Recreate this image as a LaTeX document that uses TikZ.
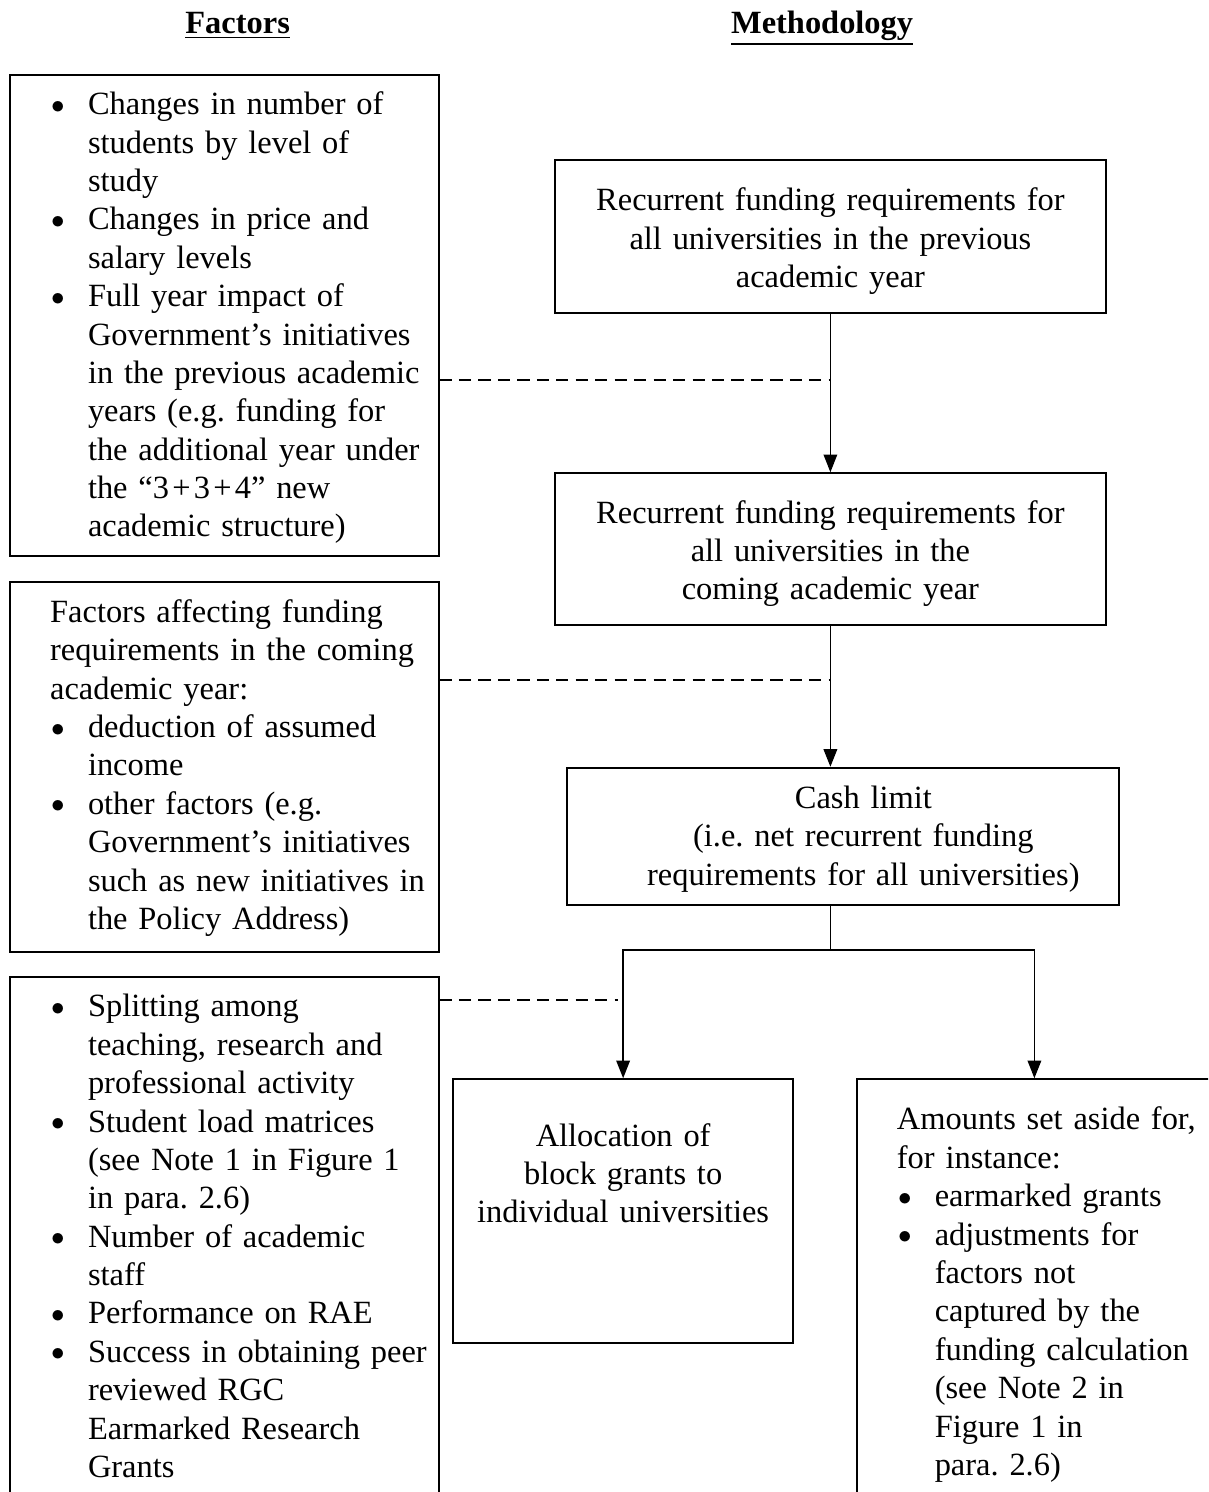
\documentclass[tikz,border=0pt]{standalone}
\usepackage{fontspec}
\setmainfont{Liberation Serif}
\usepackage{tikz}
\usetikzlibrary{arrows.meta,calc}
\frenchspacing

% one bulleted entry of a list box
\newcommand{\bitem}[1]{\hangindent=14pt\hangafter=1%
  \makebox[14pt][l]{\hspace{0.4pt}\raisebox{0.5pt}{\fontsize{10}{10}\selectfont$\bullet$}}#1\par}

\begin{document}
\begin{tikzpicture}[
  font=\fontsize{12}{14.2}\selectfont,
  box/.style={draw,line width=0.7pt,anchor=north west,inner ysep=0pt},
  factbox/.style={box,inner xsep=0.1cm,text width=5.37cm,align=left,text height=0.52cm,
    execute at begin node={\leftskip=11.95pt\rightskip=0pt plus 1fil\parfillskip=0pt plus 1fil}},
  methbox/.style={box,inner xsep=0.15cm,align=center,
    execute at begin node={\leftskip=0pt plus 1fil\rightskip=0pt plus 1fil\parfillskip=0pt}},
  link/.style={line width=0.6pt},
  arrow/.style={link,-{Triangle[length=6.5pt,width=5pt]}},
  dashln/.style={line width=0.6pt,dash pattern=on 4.5pt off 2.7pt},
  head/.style={font=\fontsize{12}{14.2}\selectfont\bfseries,anchor=base}
]
\useasboundingbox (0,0) rectangle (15.71,-19.40);
\clip (0,0) rectangle (15.71,-19.40);

%--- column headings ---
\node[head] (factHead) at (3.09,-0.43) {\underline{Factors}};
\node[head] (methHead) at (10.69,-0.43) {\underline{Methodology}};

%--- factors column ---
\node[factbox,text depth=5.74cm] (factA) at (0.12,-0.96) {
  \bitem{Changes in number of\newline students by level of\newline study}
  \bitem{Changes in price and\newline salary levels}
  \bitem{Full year impact of\newline Government's initiatives\newline in the previous academic\newline
    years (e.g. funding for\newline the additional year under\newline
    the ``3\hspace{1.2pt}+\hspace{1.2pt}3\hspace{1.2pt}+\hspace{1.2pt}4'' new\newline academic structure)}};
\node[factbox,text depth=4.29cm] (factB) at (0.12,-7.56) {
  Factors affecting funding\newline requirements in the coming\newline academic year:\par
  \bitem{deduction of assumed\newline income}
  \bitem{other factors (e.g.\newline Government's initiatives\newline
    such as new initiatives in\newline the Policy Address)}};
\node[factbox,text depth=6.6cm] (factC) at (0.12,-12.69) {
  \bitem{Splitting among\newline teaching, research and\newline professional activity}
  \bitem{Student load matrices\newline (see Note 1 in Figure 1\newline in para. 2.6)}
  \bitem{Number of academic\newline staff}
  \bitem{Performance on RAE}
  \bitem{Success in obtaining peer\newline reviewed RGC\newline Earmarked Research\newline Grants}};

%--- methodology column ---
\node[methbox,text width=6.87cm,text height=0.66cm,text depth=1.33cm] (prev) at (7.20,-2.07)
  {Recurrent funding requirements for\\all universities in the previous\\academic year};
\node[methbox,text width=6.87cm,text height=0.65cm,text depth=1.33cm] (coming) at (7.20,-6.14)
  {Recurrent funding requirements for\\all universities in the\\coming academic year};
\node[methbox,text width=6.88cm,text height=0.53cm,text depth=1.26cm,
  execute at begin node={\leftskip=15pt plus 1fil\rightskip=0pt plus 1fil\parfillskip=0pt}]
  (cash) at (7.36,-9.97)
  {Cash limit\\(i.e. net recurrent funding\\requirements for all universities)};
\node[methbox,text width=4.12cm,text height=0.87cm,text depth=2.56cm] (alloc) at (5.88,-14.02)
  {Allocation of\\block grants to\\individual universities};
\node[factbox,text height=0.66cm,text depth=5.2cm] (aside) at (11.13,-14.02) {
  Amounts set aside for,\newline for instance:\par
  \bitem{earmarked grants}
  \bitem{adjustments for\newline factors not\newline captured by the\newline funding calculation\newline
    (see Note 2 in\newline Figure 1 in\newline para. 2.6)}};

%--- connectors ---
\coordinate (jA) at (0,-4.94);
\coordinate (jB) at (0,-8.84);
\coordinate (jC) at (0,-13.00);
\coordinate (split) at (prev.south |- 0,-12.35);
\coordinate (drop) at (13.45,-12.35);
\draw[arrow] (prev) -- (coming);
\draw[arrow] (coming) -- (coming.south |- cash.north);
\draw[link] (split |- cash.south) -- (split);
\draw[arrow] (split) -| (alloc);
\draw[arrow] (split) -- (drop) -- (drop |- aside.north);
% dashed links from the factors
\draw[dashln] (factA.east |- jA) -- (prev.south |- jA);
\draw[dashln] (factB.east |- jB) -- (coming.south |- jB);
\draw[dashln,shorten >=0.07cm] (factC.east |- jC) -- (alloc.north |- jC);
\end{tikzpicture}
\end{document}
